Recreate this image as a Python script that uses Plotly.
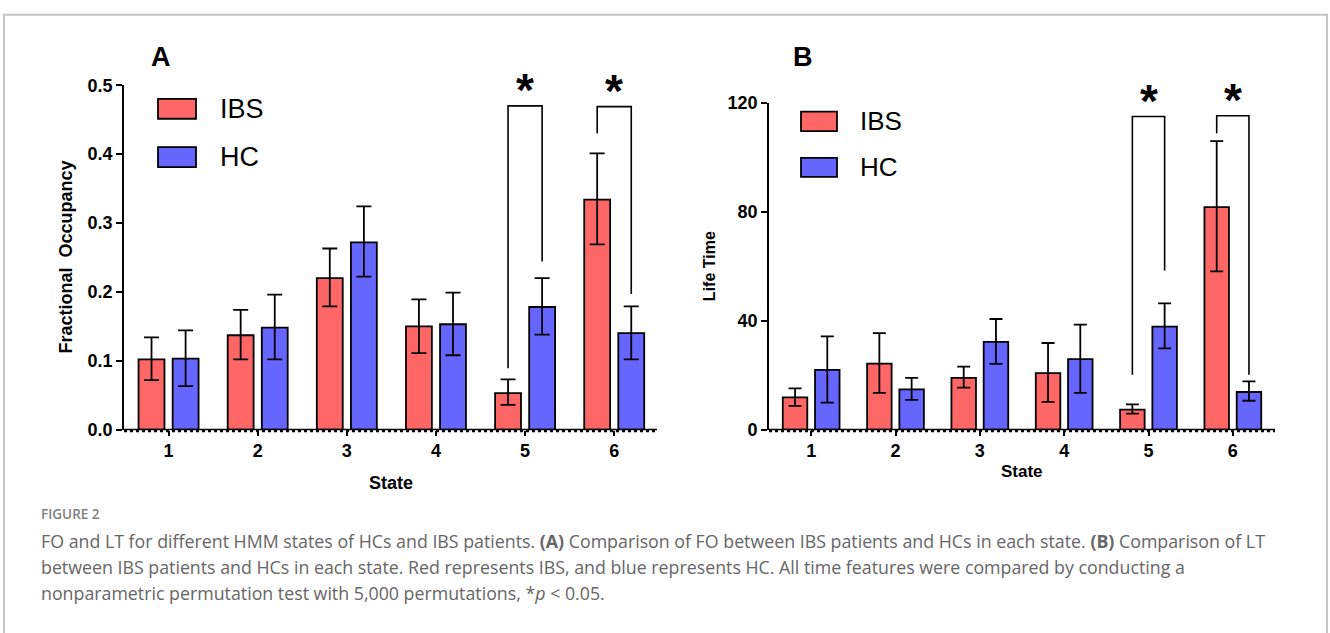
import plotly.graph_objects as go

# ---------------- data ----------------
states = [1, 2, 3, 4, 5, 6]
state_labels = ["1", "2", "3", "4", "5", "6"]

# Panel A: Fractional Occupancy
fo_ibs = [0.102, 0.137, 0.220, 0.150, 0.053, 0.334]
fo_ibs_hi = [0.134, 0.174, 0.263, 0.189, 0.073, 0.401]
fo_ibs_lo = [0.072, 0.102, 0.179, 0.111, 0.036, 0.269]
fo_hc = [0.103, 0.148, 0.272, 0.153, 0.178, 0.140]
fo_hc_hi = [0.144, 0.196, 0.324, 0.199, 0.220, 0.179]
fo_hc_lo = [0.063, 0.102, 0.222, 0.108, 0.138, 0.102]
fo_ticks = [0.0, 0.1, 0.2, 0.3, 0.4, 0.5]

# Panel B: Life Time
lt_ibs = [11.8, 24.2, 19.0, 20.7, 7.3, 81.7]
lt_ibs_hi = [15.1, 35.4, 23.1, 31.8, 9.3, 105.9]
lt_ibs_lo = [8.7, 13.5, 15.4, 10.2, 5.9, 58.1]
lt_hc = [21.9, 14.8, 32.2, 25.9, 37.8, 13.8]
lt_hc_hi = [34.2, 19.0, 40.6, 38.5, 46.3, 17.7]
lt_hc_lo = [9.9, 10.9, 24.1, 13.5, 29.8, 10.6]
lt_ticks = [0, 40, 80, 120]

# significance brackets: (state, IBS leg end, HC leg end, bracket top)
sig_a = [(5, 0.089, 0.244, 0.470), (6, 0.430, 0.197, 0.469)]
sig_b = [(5, 20.1, 58.4, 114.9), (6, 108.8, 20.1, 115.2)]

# ---------------- style ----------------
W, H = 1330, 633
RED = "#FF6666"
BLUE = "#6666FF"
FONT = "Arial, Liberation Sans, sans-serif"
CAP_FONT = "Open Sans, Noto Sans, sans-serif"
BARGAP = 0.235
BARGROUPGAP = 0.24
OFF = (1 - BARGAP) / 4  # bar-centre offset from category in x units


def px_x(p):
    return p / W


def px_y(p):
    return 1 - p / H


# plot areas (pixels)
A_L, A_R, A_T, A_B = 124, 657, 77.7, 433.3
B_L, B_R, B_T, B_B = 769, 1275, 95.7, 433.3

fig = go.Figure()


def add_bars(vals, hi, lo, color, name, xa, ya, cap):
    fig.add_trace(go.Bar(
        x=states, y=vals, name=name, xaxis=xa, yaxis=ya,
        marker=dict(color=color, line=dict(color="black", width=1.8)),
        error_y=dict(type="data", symmetric=False,
                     array=[h - v for h, v in zip(hi, vals)],
                     arrayminus=[v - l for v, l in zip(vals, lo)],
                     color="black", thickness=1.8, width=cap),
        showlegend=False, hoverinfo="y",
    ))


add_bars(fo_ibs, fo_ibs_hi, fo_ibs_lo, RED, "IBS", "x", "y", 7.5)
add_bars(fo_hc, fo_hc_hi, fo_hc_lo, BLUE, "HC", "x", "y", 7.5)
add_bars(lt_ibs, lt_ibs_hi, lt_ibs_lo, RED, "IBS", "x2", "y2", 6.5)
add_bars(lt_hc, lt_hc_hi, lt_hc_lo, BLUE, "HC", "x2", "y2", 6.5)

shapes = []
annotations = []


def note(x, y, text, size, xanchor="center", yanchor="middle", angle=0, weight="bold",
         family=FONT, color="black"):
    annotations.append(dict(x=x, y=y, xref="paper", yref="paper", text=text, showarrow=False,
                            xanchor=xanchor, yanchor=yanchor, textangle=angle,
                            font=dict(family=family, size=size, color=color, weight=weight)))


# significance brackets + stars
for sig, xr, yr in ((sig_a, "x", "y"), (sig_b, "x2", "y2")):
    for st, l_end, r_end, top in sig:
        xl, xrr = st - OFF, st + OFF
        shapes.append(dict(type="path", xref=xr, yref=yr,
                           path=f"M {xl} {l_end} L {xl} {top} L {xrr} {top} L {xrr} {r_end}",
                           line=dict(color="black", width=1.6)))
        annotations.append(dict(x=st, y=top, xref=xr, yref=yr, text="*",
                                showarrow=False,
                                font=dict(family=FONT, size=46, color="black", weight="bold"),
                                xanchor="center", yanchor="middle", yshift=16))

# dotted x-axis baselines
for L, R, B in ((A_L, A_R, A_B), (B_L, B_R, B_B)):
    shapes.append(dict(type="line", xref="paper", yref="paper",
                       x0=px_x(L), x1=px_x(R), y0=px_y(B), y1=px_y(B),
                       line=dict(color="black", width=1.5)))
    shapes.append(dict(type="line", xref="paper", yref="paper",
                       x0=px_x(L), x1=px_x(R), y0=px_y(B + 1.5), y1=px_y(B + 1.5),
                       line=dict(color="black", width=2.5, dash="dot")))

# custom legends
legend_spec = [
    (158, 196, [(91.7, 112.3, RED, "IBS"), (141.7, 162.3, BLUE, "HC")], 218, 27),
    (801, 837, [(105, 125, RED, "IBS"), (152.7, 172.3, BLUE, "HC")], 858, 26),
]
for x0, x1, items, tx, fs in legend_spec:
    for y0, y1, col, lab in items:
        shapes.append(dict(type="rect", xref="paper", yref="paper",
                           x0=px_x(x0), x1=px_x(x1), y0=px_y(y1), y1=px_y(y0),
                           fillcolor=col, line=dict(color="black", width=1.8)))
        note(px_x(tx), px_y((y0 + y1) / 2), lab, fs, xanchor="left", weight="normal")

# panel letters
note(px_x(161), px_y(49), "A", 27)
note(px_x(803), px_y(49), "B", 27)

# axis titles
note(px_x(66), px_y((A_T + A_B) / 2), "Fractional  Occupancy", 18, angle=-90)
note(px_x((A_L + A_R) / 2), px_y(488), "State", 18)
note(px_x(709), px_y((B_T + B_B) / 2), "Life Time", 16, angle=-90)
note(px_x((B_L + B_R) / 2), px_y(477), "State", 17)

# caption
cap_lines = [
    "FO and LT for different HMM states of HCs and IBS patients. <b>(A)</b> Comparison of FO between IBS patients and HCs in each state. <b>(B)</b> Comparison of LT",
    "between IBS patients and HCs in each state. Red represents IBS, and blue represents HC. All time features were compared by conducting a",
    "nonparametric permutation test with 5,000 permutations, *<i>p</i> &lt; 0.05.",
]
note(px_x(39), px_y(520), "FIGURE 2", 13.5, xanchor="left", weight=600, family=CAP_FONT,
     color="#808080")
for i, line in enumerate(cap_lines):
    note(px_x(39), px_y(548 + 27 * i), line, 17.8, xanchor="left", weight="normal",
         family=CAP_FONT, color="#666666")

# frame border
shapes.append(dict(type="rect", xref="paper", yref="paper", x0=px_x(4), x1=px_x(1327),
                   y0=-0.2, y1=px_y(5), line=dict(color="#c4c4c4", width=2), layer="below"))

common_x = dict(tickvals=states, ticktext=state_labels, showgrid=False, zeroline=False,
                showline=False, ticks="outside", ticklen=5, tickwidth=2, tickcolor="black",
                tickfont=dict(family=FONT, size=18, color="black", weight="bold"), fixedrange=True)
common_y = dict(showgrid=False, zeroline=False, showline=True, linecolor="black", linewidth=1.8,
                ticks="outside", ticklen=6, tickwidth=1.8, tickcolor="black",
                tickfont=dict(family=FONT, size=18, color="black", weight="bold"), fixedrange=True)

fig.update_layout(
    width=W, height=H,
    margin=dict(l=0, r=0, t=0, b=0),
    paper_bgcolor="white", plot_bgcolor="white",
    barmode="group", bargap=BARGAP, bargroupgap=BARGROUPGAP,
    xaxis=dict(domain=[px_x(A_L), px_x(A_R)], range=[0.5, 6.48], anchor="y", **common_x),
    yaxis=dict(domain=[px_y(A_B), px_y(A_T)], range=[0, 0.5], anchor="x",
               tickvals=fo_ticks, tickformat=".1f", **common_y),
    xaxis2=dict(domain=[px_x(B_L), px_x(B_R)], range=[0.5, 6.5], anchor="y2", **common_x),
    yaxis2=dict(domain=[px_y(B_B), px_y(B_T)], range=[0, 120], anchor="x2",
                tickvals=lt_ticks, **common_y),
    shapes=shapes, annotations=annotations,
    showlegend=False,
)

fig.write_html(
    "out.html",
    config={"displayModeBar": False},
    post_script="document.body.style.margin='0';document.body.style.overflow='hidden';",
)
